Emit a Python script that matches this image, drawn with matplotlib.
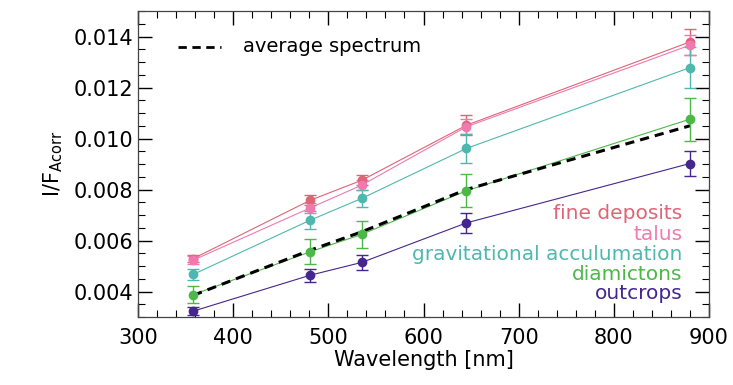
import matplotlib
matplotlib.use("Agg")
import matplotlib.pyplot as plt
from matplotlib.ticker import MultipleLocator

# data
wavelength = [358, 481, 535, 645, 880]

fine_deposits = [0.00529, 0.00758, 0.00836, 0.01052, 0.01379]
fine_err = [0.00015, 0.00020, 0.00020, 0.00040, 0.00050]
talus = [0.00523, 0.00728, 0.00817, 0.01046, 0.01366]
talus_err = [0.00015, 0.00020, 0.00020, 0.00030, 0.00040]
gravitational = [0.00467, 0.00680, 0.00765, 0.00961, 0.01278]
grav_err = [0.00020, 0.00034, 0.00034, 0.00056, 0.00080]
diamictons = [0.00388, 0.00556, 0.00624, 0.00795, 0.01076]
diam_err = [0.00033, 0.00049, 0.00052, 0.00065, 0.00084]
outcrops = [0.00323, 0.00464, 0.00514, 0.00669, 0.00902]
outc_err = [0.00015, 0.00026, 0.00031, 0.00039, 0.00048]
average = [0.00385, 0.00562, 0.00634, 0.00800, 0.01050]

names = ["fine deposits", "talus", "gravitational acculumation", "diamictons", "outcrops"]
colors = ["#de6476", "#f07ab0", "#4fb8ae", "#4cb848", "#45268e"]
series = [fine_deposits, talus, gravitational, diamictons, outcrops]
errors = [fine_err, talus_err, grav_err, diam_err, outc_err]

plt.rcParams["font.family"] = "DejaVu Sans"
fig = plt.figure(figsize=(7.33, 3.85), dpi=100)
ax = fig.add_axes([0.1883, 0.1766, 0.7790, 0.7948])

for vals, err, c in zip(series, errors, colors):
    ax.plot(wavelength, vals, color=c, lw=0.8, zorder=2)
    ax.errorbar(wavelength, vals, yerr=err, fmt="o", color=c, ms=6,
                elinewidth=1.0, capsize=4, capthick=1.0, zorder=4)

ax.plot(wavelength, average, color="black", lw=2.2, ls=(0, (3, 2)), zorder=3)

# legend-like annotations
ax.plot([342, 387], [0.0136, 0.0136], color="black", lw=2.0, ls=(0, (3, 2)))
ax.text(410, 0.0136, "average spectrum", fontsize=14, va="center", ha="left")

ys = [0.00706, 0.00622, 0.00545, 0.00465, 0.00392]
for name, c, y in zip(names, colors, ys):
    ax.text(872, y, name, color=c, fontsize=14.5, ha="right", va="center")

ax.set_xlim(300, 900)
ax.set_ylim(0.003, 0.015)
ax.set_yticks([0.004, 0.006, 0.008, 0.010, 0.012, 0.014])
ax.set_yticklabels(["0.004", "0.006", "0.008", "0.010", "0.012", "0.014"])
ax.xaxis.set_minor_locator(MultipleLocator(20))
ax.yaxis.set_minor_locator(MultipleLocator(0.0005))
ax.tick_params(which="both", direction="in", top=True, right=True, labelsize=15)
ax.tick_params(which="major", length=10, width=1)
ax.tick_params(which="minor", length=5, width=0.8)
ax.tick_params(axis="x", pad=8)
for s in ax.spines.values():
    s.set_linewidth(0.9)
    s.set_color("#444444")

ax.set_xlabel("Wavelength [nm]", fontsize=15, labelpad=1)
ax.set_ylabel(r"I/F$_{\mathrm{Acorr}}$", fontsize=15, labelpad=6)

fig.savefig("out.png", dpi=100)
